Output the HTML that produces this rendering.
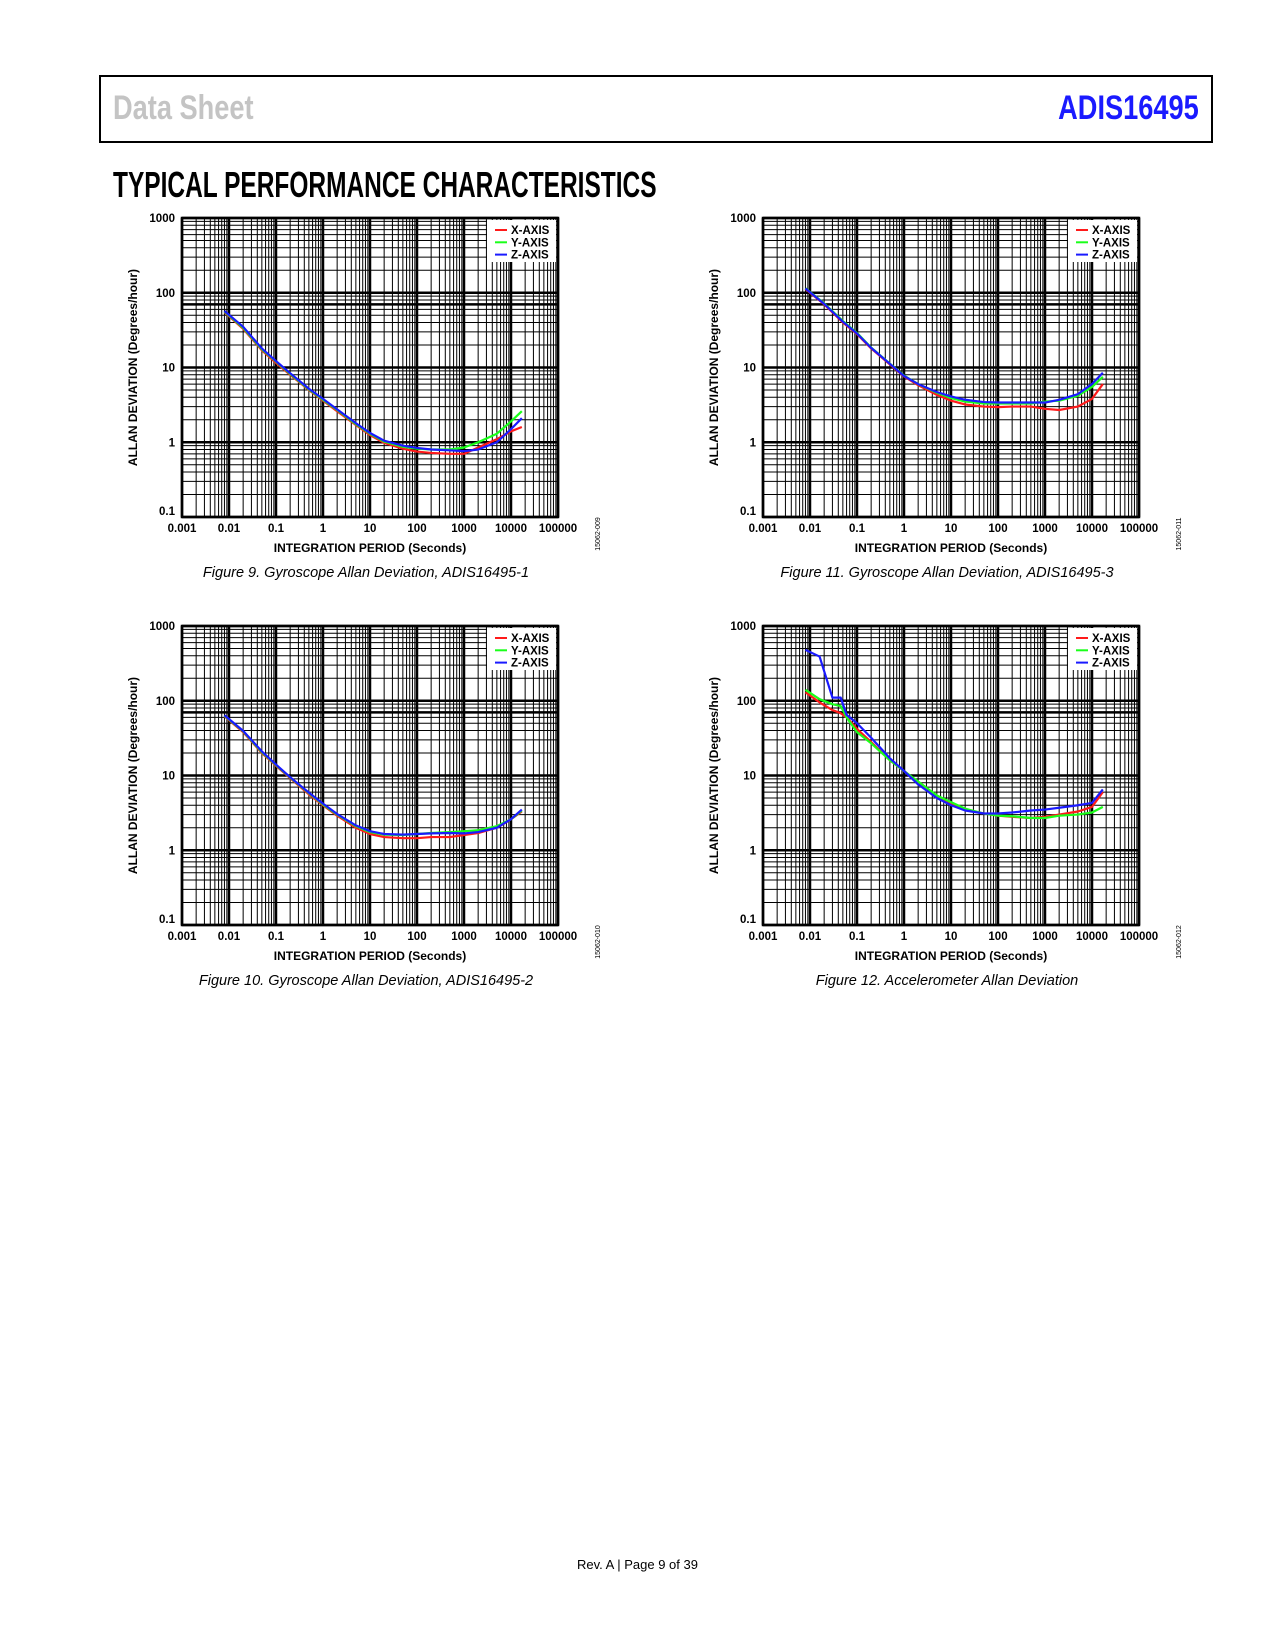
<!DOCTYPE html>
<html><head><meta charset="utf-8"><style>
body{margin:0;background:#fff;width:1275px;height:1650px;position:relative;font-family:"Liberation Sans",sans-serif;overflow:hidden}
.hdr{position:absolute;left:99px;top:75px;width:1114px;height:68px;border:2px solid #000;box-sizing:border-box}
.ds{position:absolute;left:12px;top:12px;font:bold 34px "Liberation Sans Narrow","Liberation Sans",sans-serif;color:#c4c4c4;transform:scaleX(.8);transform-origin:left}
.pn{position:absolute;right:12px;top:12px;font:bold 34px "Liberation Sans Narrow","Liberation Sans",sans-serif;color:#1a1aff;transform:scaleX(.8);transform-origin:right}
.ttl{position:absolute;left:113px;top:164px;font:bold 36px "Liberation Sans Narrow","Liberation Sans",sans-serif;transform:scaleX(.68);transform-origin:left;white-space:nowrap}
.cap{position:absolute;font:italic 14.5px "Liberation Sans",sans-serif;transform:translateX(-50%);white-space:nowrap}
.foot{position:absolute;left:0;width:1275px;top:1557px;text-align:center;font:13px "Liberation Sans",sans-serif}
svg{position:absolute;left:0;top:0}
</style></head><body>
<div class="hdr"><span class="ds">Data Sheet</span><span class="pn">ADIS16495</span></div>
<div class="ttl">TYPICAL PERFORMANCE CHARACTERISTICS</div>
<div class="cap" style="left:366px;top:565px">Figure 9. Gyroscope Allan Deviation, ADIS16495-1</div>
<div class="cap" style="left:947px;top:565px">Figure 11. Gyroscope Allan Deviation, ADIS16495-3</div>
<div class="cap" style="left:366px;top:973px">Figure 10. Gyroscope Allan Deviation, ADIS16495-2</div>
<div class="cap" style="left:947px;top:973px">Figure 12. Accelerometer Allan Deviation</div>
<div class="foot">Rev. A | Page 9 of 39</div>
<svg id="s" width="1275" height="1650"></svg>
<script>
const xTicks=["0.001","0.01","0.1","1","10","100","1000","10000","100000"];
const yTicks=["0.1","1","10","100","1000"];
const legendLabels=["X-AXIS","Y-AXIS","Z-AXIS"];
const tauA=[0.008,0.02,0.05,0.1,0.2,0.5,1,2,5,10,20,50,100,200,500,1000,2000,5000,10000,17000];
const fig9X=[55,33,17,11.5,8,5,3.6,2.6,1.7,1.25,0.98,0.82,0.75,0.72,0.7,0.7,0.85,1.1,1.4,1.6];
const fig9Y=[56,34,17.5,12,8.2,5.1,3.7,2.7,1.75,1.3,1.02,0.87,0.82,0.8,0.8,0.85,1.0,1.3,1.9,2.6];
const fig9Z=[57,35,18,12.2,8.4,5.2,3.8,2.75,1.8,1.33,1.05,0.9,0.84,0.8,0.78,0.76,0.8,1.0,1.5,2.1];
const fig11X=[112,70,40,28,18,11,7.6,5.8,4.3,3.6,3.2,3.0,2.95,3.0,3.0,2.8,2.7,3.0,3.8,6];
const fig11Y=[115,72,42,29,18.5,11.3,7.8,6,4.6,3.9,3.5,3.3,3.3,3.3,3.3,3.5,3.6,4.2,5.5,7.5];
const fig11Z=[114,71,41,28.5,18.3,11.2,7.7,6,4.7,4.1,3.7,3.45,3.4,3.4,3.4,3.4,3.7,4.4,6.0,8.5];
const fig10X=[62,38,20,13.5,9.2,5.6,4,2.9,2.0,1.65,1.5,1.45,1.45,1.5,1.5,1.6,1.7,2.0,2.6,3.3];
const fig10Y=[63,39,20.5,13.8,9.4,5.8,4.1,3.0,2.1,1.75,1.62,1.6,1.65,1.7,1.75,1.8,1.85,2.1,2.6,3.4];
const fig10Z=[64,39.5,21,14,9.5,5.9,4.2,3.05,2.15,1.8,1.65,1.62,1.65,1.68,1.7,1.68,1.75,2.0,2.6,3.5];
const tauB=[0.008,0.016,0.03,0.045,0.06,0.1,0.2,0.5,1,2,5,10,20,50,100,200,500,1000,2000,5000,10000,17000];
const fig12X=[130,95,75,68,60,42,28,16,11.5,8,5.2,4.2,3.5,3.1,2.9,2.8,2.7,2.8,3.0,3.3,3.8,6];
const fig12Y=[140,105,90,85,60,38,27,16,11.5,8.3,5.4,4.4,3.6,3.1,2.9,2.85,2.7,2.7,2.9,3.0,3.2,3.8];
const fig12Z=[480,390,110,110,65,50,32,17,11.5,7.6,5.0,4.0,3.4,3.1,3.1,3.2,3.4,3.5,3.7,4.0,4.3,6.5];

const NS="http://www.w3.org/2000/svg",svg=document.getElementById('s');
function mk(t,a,p){const e=document.createElementNS(NS,t);for(const k in a)e.setAttribute(k,a[k]);(p||svg).appendChild(e);return e;}
const colors=["#ff1a1a","#1aff1a","#1a1aff"];
function chart(L,T,name,code,tau,series){
  const W=376,H=299;
  const g=mk('g',{});
  
  
  const xs=v=>L+(Math.log10(v)+3)/8*W, ys=v=>T+H-(Math.log10(v)+1)/4*H;
  for(let d=-3;d<5;d++)for(let m=2;m<10;m++){const x=xs(m*Math.pow(10,d));const l=mk('line',{x1:x,x2:x,y1:T,y2:T+H,stroke:'#000','stroke-width':1},g);}
  for(let d=-1;d<3;d++)for(let m=2;m<10;m++){const y=ys(m*Math.pow(10,d));const l=mk('line',{x1:L,x2:L+W,y1:y,y2:y,stroke:'#000','stroke-width':(d==1&&m==7)?2.5:1},g);}
  xTicks.forEach((t,i)=>{const x=xs(+t);const l=mk('line',{x1:x,x2:x,y1:T,y2:T+H,stroke:'#000','stroke-width':2.5},g);
    const tx=mk('text',{x:x,y:T+H+15,'text-anchor':'middle','font-size':11.5,'font-weight':'bold','font-family':'Liberation Sans'},g);tx.textContent=t;});
  yTicks.forEach((t,i)=>{const y=ys(+t);const l=mk('line',{x1:L,x2:L+W,y1:y,y2:y,stroke:'#000','stroke-width':2.5},g);
    const tx=mk('text',{x:L-7,y:y+(i==0?-2:4),'text-anchor':'end','font-size':11.5,'font-weight':'bold','font-family':'Liberation Sans'},g);tx.textContent=t;});
  const fr=mk('rect',{x:L,y:T,width:W,height:H,fill:'none',stroke:'#000','stroke-width':2.5},g);
  series.forEach((s,k)=>{const p=mk('polyline',{points:tau.map((t,i)=>xs(t)+','+ys(s[i])).join(' '),fill:'none',stroke:colors[k],'stroke-width':2.2,'stroke-linejoin':'round'},g);});
  const lb=mk('rect',{x:L+W-71,y:T+2,width:69,height:42,fill:'#fff'},g);
  legendLabels.forEach((t,k)=>{const y=T+12+k*12.3;const l=mk('line',{x1:L+W-63,x2:L+W-51,y1:y,y2:y,stroke:colors[k],'stroke-width':2},g);
    const tx=mk('text',{x:L+W-47,y:y+4,'font-size':11.5,'font-weight':'bold','font-family':'Liberation Sans'},g);tx.textContent=t;});
  const xt=mk('text',{x:L+W/2,y:T+H+35,'text-anchor':'middle','font-size':12,'font-weight':'bold','font-family':'Liberation Sans'},g);xt.textContent='INTEGRATION PERIOD (Seconds)';
  const yt=mk('text',{x:0,y:0,'text-anchor':'middle','font-size':12,'font-weight':'bold','font-family':'Liberation Sans',transform:`translate(${L-45},${T+H/2}) rotate(-90)`},g);yt.textContent='ALLAN DEVIATION (Degrees/hour)';
  const ct=mk('text',{x:0,y:0,'text-anchor':'middle','font-size':7,'font-family':'Liberation Sans',transform:`translate(${L+W+42},${T+H+17}) rotate(-90)`},g);ct.textContent=code;
}
chart(182,218,'figure-9-chart','15062-009',tauA,[fig9X,fig9Y,fig9Z]);
chart(763,218,'figure-11-chart','15062-011',tauA,[fig11X,fig11Y,fig11Z]);
chart(182,626,'figure-10-chart','15062-010',tauA,[fig10X,fig10Y,fig10Z]);
chart(763,626,'figure-12-chart','15062-012',tauB,[fig12X,fig12Y,fig12Z]);
</script>
</body></html>
